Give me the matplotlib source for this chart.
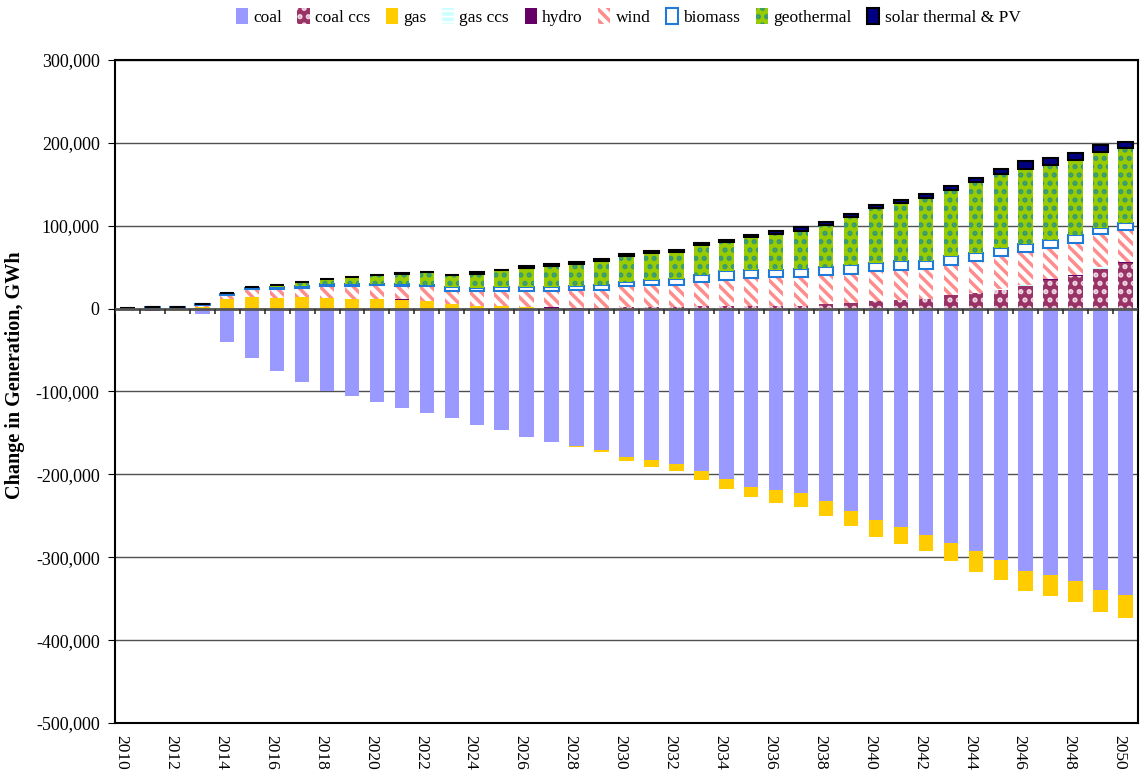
import numpy as np
import matplotlib
matplotlib.use('agg')
import matplotlib.pyplot as plt
from matplotlib.ticker import FuncFormatter
from matplotlib.transforms import ScaledTranslation

plt.rcParams['font.family'] = ['Liberation Serif', 'DejaVu Serif']
plt.rcParams['hatch.linewidth'] = 2.5

years = np.arange(2010, 2051)

coal = [0, 0, 0, -7000, -40000, -60000, -75500, -88000, -100000, -106000,
        -113000, -119500, -125500, -131500, -140000, -147000, -155500, -161500, -165500, -170300,
        -179000, -182700, -187500, -196000, -205700, -215400, -219000, -222600, -232300, -244400,
        -255300, -264000, -273700, -282600, -293000, -303500, -316800, -321700, -329000, -339500,
        -346000]
coal_ccs = [0] * 20 + [2400, 2400, 2400, 2600, 3600, 3600, 3600, 3600, 6000, 6800,
                       8800, 10000, 12000, 16100, 19000, 22200, 27000, 34300, 39100, 47200,
                       55200]
gas = [0, -1500, -3000, 1500, 12000, 14500, 13300, 14500, 13300, 12000,
       12000, 10500, 9600, 6000, 2800, 3600, 1600, 0, -1300, -2200,
       -4500, -8100, -8100, -10900, -12100, -12100, -15400, -17000, -18200, -18200,
       -20400, -19700, -19300, -22200, -24800, -23900, -23800, -25300, -25000, -26300,
       -27600]
gas_ccs = [0] * 35 + [1200, 2000, 0, 0, 3000, 0]
hydro = [0, -800, 0, 1000, 0, 0, 0, 0, 0, 0,
         0, 800, 0, 0, 0, 0, 800, 1600, 1200, 1200,
         0, 0, 0, 1000, 0, 0, 0, 0, 0, 0,
         0, 0, 0, 0, 0, 0, 0, 1600, 1200, 0,
         1200]
wind = [1000, 500, 0, 2000, 5000, 9200, 10500, 10000, 13700, 14900,
        16100, 16000, 17300, 15700, 18000, 18000, 19200, 20000, 20900, 21700,
        24900, 26500, 25700, 28100, 31300, 33300, 34100, 34500, 34100, 35300,
        36100, 36900, 35700, 37100, 38300, 39900, 39100, 37500, 39100, 39900,
        38300]
biomass = [-500, 1500, 1500, 1000, 1000, 1500, 2400, 2400, 2400, 2400,
           2000, 2000, 2000, 4400, 4400, 4400, 4400, 4400, 4800, 6000,
           5200, 5200, 7200, 8400, 10000, 9200, 9200, 9600, 10000, 10800,
           10000, 10800, 10000, 10000, 9300, 9300, 9300, 8900, 8900, 7300,
           8900]
geothermal = [0, 0, 0, 0, 1000, 1000, 2800, 5600, 6800, 9300,
              10900, 12000, 14800, 14800, 16400, 20800, 23600, 25600, 27300, 28500,
              30500, 32900, 32900, 36500, 35800, 39800, 43400, 46200, 50200, 57400,
              65900, 69500, 75900, 79800, 86300, 89900, 91500, 90700, 90700, 91500,
              90700]
solar = [0] * 11 + [1600, 0, 0, 2400, 0, 2400, 2400, 2400, 2400,
                    2400, 2400, 2400, 2400, 2400, 3200, 3600, 4000, 4000, 4000,
                    4000, 4000, 4400, 4800, 5200, 6000, 9300, 9300, 8500, 8100,
                    7300]

series = [
    ('coal', coal, dict(color='#9999ff')),
    ('coal ccs', coal_ccs, dict(facecolor='#993366', edgecolor='#f0d8e4', hatch='..', linewidth=0)),
    ('gas', gas, dict(color='#ffcc00')),
    ('gas ccs', gas_ccs, dict(facecolor='white', edgecolor='#ccffff', hatch='---', linewidth=0)),
    ('hydro', hydro, dict(color='#660066')),
    ('wind', wind, dict(facecolor='white', edgecolor='#ff8c8c', hatch='\\\\\\', linewidth=0)),
    ('biomass', biomass, dict(facecolor='white', edgecolor='#1f7ad8', linewidth=1.5)),
    ('geothermal', geothermal, dict(facecolor='#99cc00', edgecolor='#339977', hatch='..', linewidth=0)),
    ('solar thermal & PV', solar, dict(facecolor='#000080', edgecolor='black', linewidth=1.5)),
]

fig = plt.figure(figsize=(11.46, 7.78), dpi=100)
ax = fig.add_axes([0.1003, 0.0707, 0.8927, 0.8522])

x = np.arange(len(years))
pos = np.zeros(len(years))
neg = np.zeros(len(years))
handles = []
for name, vals, style in series:
    v = np.array(vals, dtype=float)
    bottom = np.where(v >= 0, pos, neg)
    b = ax.bar(x, v, width=0.58, bottom=bottom, label=name, zorder=2, **style)
    handles.append(b)
    pos = pos + np.where(v > 0, v, 0)
    neg = neg + np.where(v < 0, v, 0)

ax.set_xlim(-0.5, len(years) - 0.5)
ax.set_ylim(-500000, 300000)
ax.set_yticks(np.arange(-500000, 300001, 100000))
ax.yaxis.set_major_formatter(FuncFormatter(lambda v, p: f'{int(v):,}'))
ax.grid(axis='y', color='#505050', linewidth=1)
ax.set_axisbelow(True)
ax.axhline(0, color='#555555', linewidth=2, zorder=3)

# category tick marks on the zero line
bounds = np.arange(len(years) + 1) - 0.5
ax.vlines(bounds, -6500, 0, color='#303030', linewidth=1.2, zorder=3)

ax.set_xticks(x[::2])
ax.set_xticklabels([str(y) for y in years[::2]], rotation=270, fontsize=12.5)
ax.tick_params(axis='x', length=0, pad=9)
shift = ScaledTranslation(-0.06, 0, fig.dpi_scale_trans)
for lab in ax.get_xticklabels():
    lab.set_transform(lab.get_transform() + shift)
ax.tick_params(axis='y', direction='out', length=5, labelsize=13, pad=6)

for s in ax.spines.values():
    s.set_color('black')
    s.set_linewidth(1.5)

ax.set_ylabel('Change in Generation, GWh', fontsize=14.5, fontweight='bold')
ax.yaxis.set_label_coords(-0.088, 0.525)

fig.legend(handles=handles, loc='upper center', bbox_to_anchor=(0.548, 1.005), ncol=9,
           frameon=False, fontsize=12.5, handlelength=0.7, handleheight=1.0,
           handletextpad=0.3, columnspacing=0.9, borderaxespad=0.3)

fig.savefig('out.png', dpi=100)
